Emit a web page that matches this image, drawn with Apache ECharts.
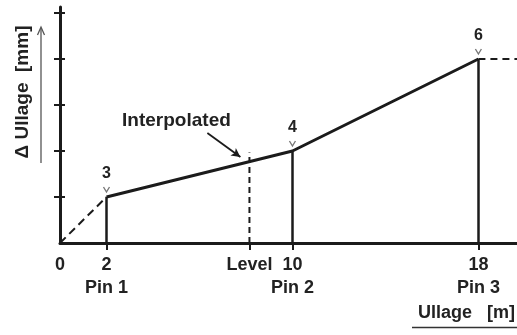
<!DOCTYPE html>
<html>
<head>
<meta charset="utf-8">
<script src="https://cdn.jsdelivr.net/npm/echarts@6/dist/echarts.min.js"></script>
<style>
  html, body { margin: 0; padding: 0; background: #fff; }
  #chart { width: 517px; height: 335px; }
</style>
</head>
<body>
<div id="chart"></div>
<script>
// Ullage readings at the three pins and the interpolated level between pins 1 and 2
const pinNames = ['Pin 1', 'Pin 2', 'Pin 3'];
const pinUllage = [2, 10, 18];        // m
const pinDelta = [3, 4, 6];           // mm
const levelUllage = 8.15;             // m, level position between Pin 1 and Pin 2
const levelName = 'Level';
const axisFloor = 2;                  // delta value at the origin corner
const axisTop = 7.13;
const deltaTicks = [3, 4, 5, 6, 7];
const ullageEnd = 19.66;
const annotationText = 'Interpolated';
const annotationAt = [5.01, 4.65];
const arrowFrom = [6.34, 4.39];
const arrowTo = [7.76, 3.87];

const ink = '#1b1b1b';
const textInk = '#222222';
const font = 'Liberation Sans, Arial, sans-serif';

// linear interpolation of delta at the level position
const levelDelta = pinDelta[0] + (levelUllage - pinUllage[0]) * (pinDelta[1] - pinDelta[0]) / (pinUllage[1] - pinUllage[0]);

const pinPoints = pinUllage.map((u, i) => [u, pinDelta[i]]);
const xLabelValues = [0, pinUllage[0], levelUllage, pinUllage[1], pinUllage[2]];

function xLabel(v) {
  if (Math.abs(v - levelUllage) < 1e-6) return '{a|' + levelName + '}';
  const idx = pinUllage.indexOf(v);
  if (idx >= 0) return '{a|' + v + '}\n{a|' + pinNames[idx] + '}';
  return '{a|' + v + '}';
}

const chart = echarts.init(document.getElementById('chart'), null, { renderer: 'canvas' });

const yBase = {
  type: 'value', min: axisFloor, max: axisTop, position: 'left',
  splitLine: { show: false }, axisLabel: { show: false }
};

chart.setOption({
  animation: false,
  backgroundColor: '#ffffff',
  grid: { left: 60, right: 0, top: 7, bottom: 92, containLabel: false },
  xAxis: {
    type: 'value', min: 0, max: ullageEnd,
    axisLine: { lineStyle: { color: ink, width: 3 } },
    splitLine: { show: false },
    axisTick: { show: true, length: 7, customValues: [pinUllage[0], levelUllage, pinUllage[1], pinUllage[2]], lineStyle: { color: ink, width: 2 } },
    axisLabel: {
      show: true, margin: 11, customValues: xLabelValues, formatter: xLabel,
      rich: { a: { fontFamily: font, fontWeight: 'bold', fontSize: 18, color: textInk, lineHeight: 23, align: 'center' } }
    }
  },
  yAxis: [
    Object.assign({}, yBase, {
      name: 'Δ Ullage  [mm]', nameLocation: 'middle', nameRotate: 90, nameGap: 28,
      nameTextStyle: { fontFamily: font, fontWeight: 'bold', fontSize: 19, color: textInk, padding: [0, 0, 0, 66] },
      axisLine: { show: true, lineStyle: { color: ink, width: 3 } },
      axisTick: { show: true, inside: false, length: 6, customValues: deltaTicks, lineStyle: { color: ink, width: 2 } }
    }),
    Object.assign({}, yBase, {
      axisLine: { show: false },
      axisTick: { show: true, inside: true, length: 5, customValues: deltaTicks, lineStyle: { color: ink, width: 2 } }
    })
  ],
  graphic: [
    // arrow beside the vertical axis title
    { type: 'line', silent: true, shape: { x1: 41, y1: 163, x2: 41, y2: 28 }, style: { stroke: '#555', lineWidth: 1.3 } },
    { type: 'polyline', silent: true, shape: { points: [[37.5, 35], [41, 27], [44.5, 35]] }, style: { stroke: '#555', lineWidth: 1.3, fill: null } },
    // horizontal axis title, underlined
    { type: 'text', silent: true, right: 2, top: 304, style: { text: 'Ullage   [m]', fontFamily: font, fontWeight: 'bold', fontSize: 18, fill: textInk } },
    { type: 'line', silent: true, shape: { x1: 412, y1: 327.5, x2: 517, y2: 327.5 }, style: { stroke: '#333', lineWidth: 1.6 } }
  ],
  series: [
    {
      type: 'line', name: 'ullage', data: pinPoints, symbol: 'none',
      lineStyle: { color: ink, width: 3 }, z: 5,
      markLine: {
        silent: true, symbol: ['none', 'none'], label: { show: false },
        lineStyle: { color: ink, width: 2.5, type: 'solid' },
        data: pinPoints.map(p => [{ coord: [p[0], axisFloor] }, { coord: [p[0], p[1]] }])
      }
    },
    {
      type: 'line', name: 'origin', data: [[0, axisFloor], pinPoints[0]], symbol: 'none',
      lineStyle: { color: ink, width: 2, type: [8, 5] }
    },
    {
      type: 'line', name: 'beyond', data: [pinPoints[2], [ullageEnd, pinDelta[2]]], symbol: 'none',
      lineStyle: { color: ink, width: 2, type: [7, 5] }
    },
    {
      type: 'line', name: 'level', data: [[levelUllage, axisFloor], [levelUllage, levelDelta + 0.2]], symbol: 'none',
      lineStyle: { color: ink, width: 2, type: [6, 4] }
    },
    {
      type: 'line', name: 'arrow', data: [], symbol: 'none',
      markLine: {
        silent: true, symbol: ['none', 'arrow'], symbolSize: [7, 9], label: { show: false },
        lineStyle: { color: ink, width: 1.8, type: 'solid' },
        data: [[{ coord: arrowFrom }, { coord: arrowTo }]]
      }
    },
    {
      type: 'scatter', name: 'pins', data: pinPoints,
      symbol: 'path://M0,0L5,8L10,0', symbolSize: [6, 5], symbolOffset: [0, -7.5],
      itemStyle: { color: 'none', borderColor: '#777', borderWidth: 1.2, opacity: 1 },
      label: {
        show: true, position: 'top', distance: 3,
        formatter: p => String(p.value[1]),
        fontFamily: font, fontWeight: 'bold', fontSize: 16, color: textInk
      }, z: 6
    },
    {
      type: 'scatter', name: 'note', data: [annotationAt], symbolSize: 1,
      itemStyle: { color: 'rgba(0,0,0,0)', opacity: 1 },
      label: { show: true, position: 'inside', formatter: annotationText, fontFamily: font, fontWeight: 'bold', fontSize: 19, color: textInk }
    }
  ]
});
</script>
</body>
</html>
